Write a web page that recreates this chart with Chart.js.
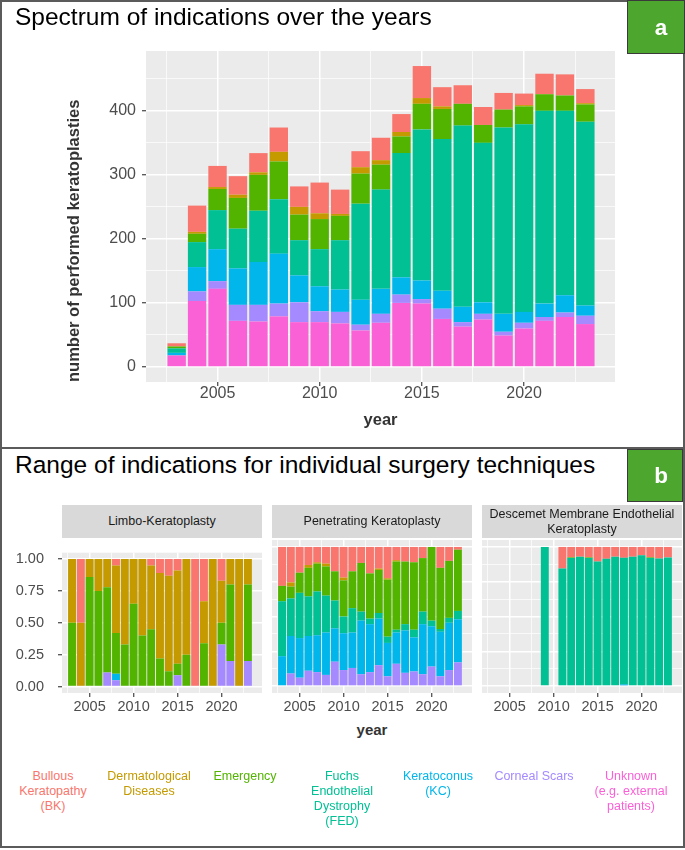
<!DOCTYPE html>
<html><head><meta charset="utf-8">
<script src="https://cdn.jsdelivr.net/npm/chart.js@4.4.1/dist/chart.umd.min.js"></script>
<style>
body{margin:0;background:#fff;font-family:"Liberation Sans",Arial,sans-serif;}
#fig{position:relative;width:685px;height:850px;overflow:hidden;background:#fff;}
.abs{position:absolute;}
canvas{position:absolute;}
.title{position:absolute;left:15px;font-size:24.5px;line-height:28px;color:#000;white-space:nowrap;}
.gbox{position:absolute;background:#4da62d;border:1px solid #3a3a3a;box-sizing:border-box;}
.glet{position:absolute;color:#fff;font-weight:bold;font-size:22.5px;line-height:26px;}
.strip{position:absolute;background:#D9D9D9;color:#1A1A1A;font-size:12.5px;text-align:center;display:flex;align-items:center;justify-content:center;line-height:15px;}
.leg{position:absolute;width:110px;text-align:center;font-size:12.5px;line-height:15px;}
</style></head><body><div id="fig">
<canvas id="cA" width="685" height="447" style="left:0;top:0"></canvas>
<canvas id="cL" width="270" height="190" style="left:0;top:530px"></canvas>
<canvas id="cP" width="210" height="190" style="left:270px;top:530px"></canvas>
<canvas id="cD" width="203" height="190" style="left:480px;top:530px"></canvas>

<div class="title" style="top:2.5px">Spectrum of indications over the years</div>
<div class="title" style="top:450.5px">Range of indications for individual surgery techniques</div>

<div class="strip" style="left:62px;top:505px;width:200px;height:33px">Limbo-Keratoplasty</div>
<div class="strip" style="left:272px;top:505px;width:200px;height:33px">Penetrating Keratoplasty</div>
<div class="strip" style="left:482px;top:505px;width:200px;height:33px">Descemet Membrane Endothelial<br>Keratoplasty</div>

<div class="abs" style="left:322px;top:721px;width:100px;text-align:center;font-weight:bold;font-size:15px;line-height:18px;color:#333">year</div>

<div id="legend"></div>

<div class="abs" style="left:0;top:0;width:685px;height:848px;border:2px solid #5b5b5b;box-sizing:border-box"></div>
<div class="abs" style="left:0;top:447px;width:685px;height:2px;background:#5b5b5b"></div>
<div class="gbox" style="left:627px;top:0;width:58px;height:54px"></div>
<div class="glet" style="left:650px;top:15px;width:22px;text-align:center">a</div>
<div class="gbox" style="left:627px;top:449px;width:56px;height:53px"></div>
<div class="glet" style="left:650px;top:463px;width:22px;text-align:center">b</div>
</div>
<script>
// ---------- data ----------
const years = [2003,2004,2005,2006,2007,2008,2009,2010,2011,2012,2013,2014,2015,2016,2017,2018,2019,2020,2021,2022,2023];
const indicationNames = ['Bullous Keratopathy (BK)','Dermatological Diseases','Emergency','Fuchs Endothelial Dystrophy (FED)','Keratoconus (KC)','Corneal Scars','Unknown (e.g. external patients)'];
const legendLines = [['Bullous','Keratopathy','(BK)'],['Dermatological','Diseases'],['Emergency'],['Fuchs','Endothelial','Dystrophy','(FED)'],['Keratoconus','(KC)'],['Corneal Scars'],['Unknown','(e.g. external','patients)']];
const colors = ['#F8766D','#C49A00','#53B400','#00C094','#00B6EB','#A58AFF','#FB61D7'];

// panel a: number of keratoplasties per year
const countBK      = [5,41,33,29,30,38,32,48,38,25,35,28,50,30,29,28,26,18,32,33,22];
const countDerm    = [0,3,3,5,4,15,12,9,3,10,7,7,9,4,0,0,0,2,0,0,2];
const countEmerg   = [3,13,33,48,56,59,40,47,38,47,39,26,40,47,34,28,28,28,26,24,27];
const countFED     = [7,39,61,62,80,85,55,58,77,150,155,194,236,237,283,249,291,293,301,288,287];
const countKC      = [4,38,50,57,67,78,42,39,35,39,39,27,29,28,24,18,28,17,21,27,16];
const countScars   = [0,15,12,25,26,20,31,17,18,9,14,13,7,16,7,9,6,9,6,7,13];
const countUnknown = [18,103,122,72,71,79,70,70,68,57,69,100,99,75,63,74,49,60,72,78,67];

// panel b: Limbo-Keratoplasty proportions
const limboBK      = [0,0.5,0,0,0,0.05,0,0,0,0.05,0.11,0.13,0.09,0,1,0.33,0,0.17,0,0,0];
const limboDerm    = [0.5,0.5,0.14,0.25,0.22,0.53,0.67,0.35,0.6,0.5,0.67,0.75,0.73,0.75,0,0.33,1,0.33,0.2,1,0.2];
const limboEmerg   = [0.5,0,0.86,0.75,0.67,0.32,0.33,0.65,0.4,0.45,0.22,0.12,0.09,0.25,0,0.34,0,0.17,0.6,0,0.6];
const limboFED     = [0,0,0,0,0,0,0,0,0,0,0,0,0,0,0,0,0,0,0,0,0];
const limboKC      = [0,0,0,0,0,0.05,0,0,0,0,0,0,0,0,0,0,0,0,0,0,0];
const limboScars   = [0,0,0,0,0.11,0.05,0,0,0,0,0,0,0.09,0,0,0,0,0.33,0.2,0,0.2];
const limboUnknown = [0,0,0,0,0,0,0,0,0,0,0,0,0,0,0,0,0,0,0,0,0];

// panel b: Penetrating Keratoplasty proportions
const pkBK      = [0.28,0.255,0.185,0.13,0.11,0.12,0.175,0.22,0.175,0.115,0.19,0.155,0.225,0.095,0.105,0.11,0.08,0,0.15,0.1,0.02];
const pkDerm    = [0,0.03,0,0.02,0.01,0.02,0,0.02,0,0,0,0.01,0.01,0.01,0,0,0,0,0,0,0];
const pkEmerg   = [0.11,0.085,0.145,0.205,0.2,0.21,0.21,0.26,0.265,0.35,0.325,0.31,0.41,0.49,0.45,0.485,0.385,0.53,0.44,0.41,0.44];
const pkFED     = [0.395,0.27,0.325,0.285,0.315,0.265,0.2,0.12,0.175,0.065,0.04,0.04,0.045,0.02,0.045,0.055,0.09,0.04,0.02,0.035,0.06];
const pkKC      = [0.215,0.27,0.285,0.25,0.265,0.305,0.24,0.265,0.255,0.385,0.345,0.335,0.24,0.225,0.305,0.245,0.36,0.29,0.32,0.34,0.31];
const pkScars   = [0,0.09,0.06,0.11,0.1,0.08,0.175,0.115,0.13,0.085,0.1,0.15,0.07,0.16,0.095,0.105,0.085,0.14,0.07,0.115,0.17];
const pkUnknown = [0,0,0,0,0,0,0,0,0,0,0,0,0,0,0,0,0,0,0,0,0];

// panel b: DMEK proportions (null = no surgeries that year)
const dmekBK      = [null,null,null,null,null,null,0,null,0.155,0.075,0.07,0.075,0.105,0.085,0.07,0.078,0.07,0.06,0.075,0.083,0.075];
const dmekDerm    = [null,null,null,null,null,null,0,null,0,0,0,0,0,0,0,0,0,0,0,0,0];
const dmekEmerg   = [null,null,null,null,null,null,0,null,0,0.005,0,0.005,0,0,0,0,0,0,0.005,0,0];
const dmekFED     = [null,null,null,null,null,null,1,null,0.845,0.915,0.925,0.915,0.895,0.915,0.93,0.91,0.93,0.94,0.92,0.91,0.92];
const dmekKC      = [null,null,null,null,null,null,0,null,0,0,0,0,0,0,0,0.007,0,0,0,0.007,0];
const dmekScars   = [null,null,null,null,null,null,0,null,0,0.005,0.005,0.005,0,0,0,0.005,0,0,0,0,0.005];
const dmekUnknown = [null,null,null,null,null,null,0,null,0,0,0,0,0,0,0,0,0,0,0,0,0];

// ticks
const yearTicks  = [2002.5,2005,2007.5,2010,2012.5,2015,2017.5,2020,2022.5];
const countTicks = [0,50,100,150,200,250,300,350,400,450];
const fracTicks  = [0,0.125,0.25,0.375,0.5,0.625,0.75,0.875,1];

// ---------- helpers ----------
const FONT = '"Liberation Sans", Arial, sans-serif';
const isMajorYear = v => Math.abs(v % 5) < 1e-9;
const isMajorCount = v => Math.abs(v % 100) < 1e-9;
const isMajorFrac = v => Math.abs(v*4 - Math.round(v*4)) < 1e-9;

function makeDatasets(BK, Derm, Em, FED, KC, Sc, Un){
  // stacking bottom -> top: Unknown, Scars, KC, FED, Emergency, Derm, BK
  const series = [[Un,6],[Sc,5],[KC,4],[FED,3],[Em,2],[Derm,1],[BK,0]];
  return series.map(([d,i]) => ({
    label: indicationNames[i], data: d, backgroundColor: colors[i],
    borderWidth: 0, barPercentage: 0.9, categoryPercentage: 1.0, stack: 's'
  }));
}
const bgPlugin = {id:'bg', beforeDraw(chart){
  const {ctx, chartArea:a} = chart; ctx.save(); ctx.fillStyle = '#EBEBEB';
  ctx.fillRect(a.left, a.top, a.right-a.left, a.bottom-a.top); ctx.restore(); }};

function gridFor(isMajor, showTick){
  return {
    color: '#FFFFFF', offset: false,
    lineWidth: c => (c.tick && isMajor(c.tick.value)) ? 1.5 : 0.7,
    drawTicks: showTick, tickLength: 4, tickWidth: 1.1,
    tickColor: c => (c.tick && isMajor(c.tick.value)) ? '#333333' : 'rgba(0,0,0,0)'
  };
}

function xScale(min, max, fontSize, pad, height, title){
  return {
    type: 'linear', min, max, stacked: true, offset: false,
    afterBuildTicks: s => { s.ticks = yearTicks.map(v => ({value: v})); },
    afterFit: s => { s.height = height; },
    ticks: {autoSkip: false, maxRotation: 0, minRotation: 0, padding: pad, color: '#4D4D4D',
      font: {family: FONT, size: fontSize}, callback: v => isMajorYear(v) ? String(v) : ''},
    grid: gridFor(isMajorYear, true), border: {display: false},
    title: title || {display: false}
  };
}

// ---------- panel a ----------
new Chart(document.getElementById('cA'), {
  type: 'bar',
  data: {labels: years, datasets: makeDatasets(countBK, countDerm, countEmerg, countFED, countKC, countScars, countUnknown)},
  options: {
    responsive: false, animation: false, devicePixelRatio: 1,
    layout: {padding: {left: 0, right: 70, top: 51, bottom: 0}},
    plugins: {legend: {display: false}, tooltip: {enabled: false}},
    scales: {
      x: xScale(2001.5, 2024.45, 16, -2, 65,
        {display: true, text: 'year', color: '#333333', font: {family: FONT, size: 16.5, weight: 'bold'}, padding: {top: 0, bottom: 17}}),
      y: {
        type: 'linear', min: -23.5, max: 493.5, stacked: true, beginAtZero: false,
        afterBuildTicks: s => { s.ticks = countTicks.map(v => ({value: v})); },
        afterFit: s => { s.width = 146; },
        ticks: {padding: 6, color: '#4D4D4D', font: {family: FONT, size: 16}, callback: v => isMajorCount(v) ? String(v) : ''},
        grid: gridFor(isMajorCount, true), border: {display: false},
        title: {display: true, text: 'number of performed keratoplasties', align: 'start', color: '#333333',
          font: {family: FONT, size: 16.5, weight: 'bold'}, padding: {top: 65, bottom: 0}}
      }
    }
  },
  plugins: [bgPlugin]
});

// ---------- panel b facets ----------
function facet(id, sets, yWidth, padL, padR, showY){
  new Chart(document.getElementById(id), {
    type: 'bar',
    data: {labels: years, datasets: sets},
    options: {
      responsive: false, animation: false, devicePixelRatio: 1,
      layout: {padding: {left: padL, right: padR, top: 10, bottom: 0}},
      plugins: {legend: {display: false}, tooltip: {enabled: false}},
      scales: {
        x: xScale(2001.86, 2024.6, 14.5, 1, 27),
        y: {
          type: 'linear', min: -0.05, max: 1.05, stacked: true, beginAtZero: false,
          afterBuildTicks: s => { s.ticks = fracTicks.map(v => ({value: v})); },
          afterFit: s => { s.width = yWidth; },
          ticks: {display: showY, padding: 14, color: '#4D4D4D', font: {family: FONT, size: 14.5},
            callback: v => isMajorFrac(v) ? v.toFixed(2) : ''},
          grid: gridFor(isMajorFrac, showY), border: {display: false}
        }
      }
    },
    plugins: [bgPlugin]
  });
}
facet('cL', makeDatasets(limboBK, limboDerm, limboEmerg, limboFED, limboKC, limboScars, limboUnknown), 62, 0, 8, true);
facet('cP', makeDatasets(pkBK, pkDerm, pkEmerg, pkFED, pkKC, pkScars, pkUnknown), 0, 2, 8, false);
facet('cD', makeDatasets(dmekBK, dmekDerm, dmekEmerg, dmekFED, dmekKC, dmekScars, dmekUnknown), 0, 2, 1, false);

// ---------- legend ----------
const legCenters = [53,149,245,342,438,534,631];
const legEl = document.getElementById('legend');
legendLines.forEach((lines, i) => {
  const d = document.createElement('div');
  d.className = 'leg';
  d.style.left = (legCenters[i] - 55) + 'px';
  d.style.top = '768.5px';
  d.style.color = colors[i];
  d.innerHTML = lines.join('<br>');
  legEl.appendChild(d);
});
</script>
</body></html>
